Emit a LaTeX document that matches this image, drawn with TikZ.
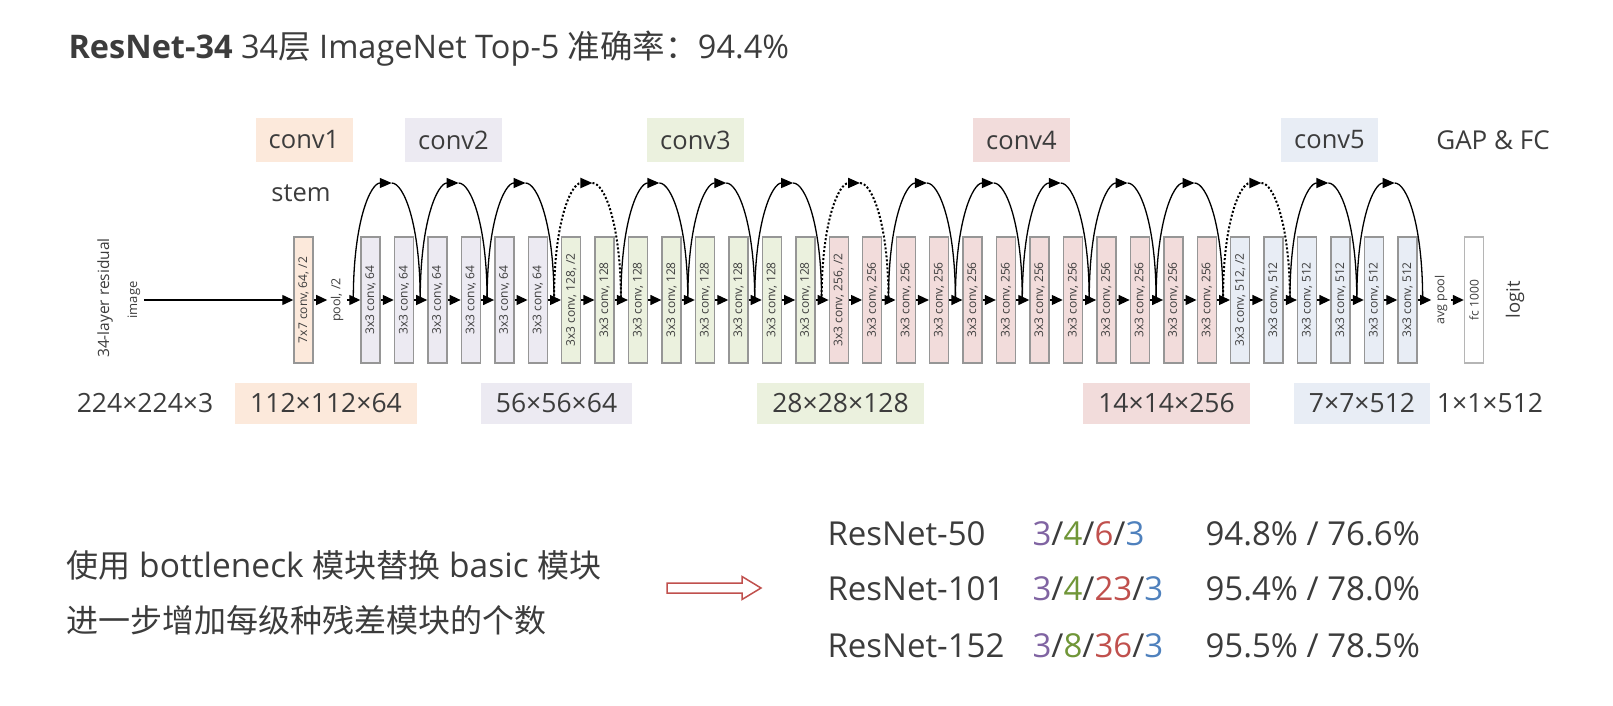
\documentclass[tikz,border=0pt]{standalone}
\usepackage{fontspec}
\setmainfont{Open Sans}
\newfontfamily\cjk{Noto Sans CJK SC}
\usetikzlibrary{arrows.meta,positioning,calc}
\definecolor{ink}{RGB}{60,60,60}
\definecolor{stemc}{RGB}{252,233,219}
\definecolor{stageb}{RGB}{236,234,242}
\definecolor{stagec}{RGB}{235,241,222}
\definecolor{staged}{RGB}{242,220,219}
\definecolor{stagee}{RGB}{232,237,245}
\definecolor{boxgray}{RGB}{150,150,150}
\definecolor{purp}{RGB}{128,100,162}
\definecolor{leafgreen}{RGB}{112,150,56}
\definecolor{brick}{RGB}{192,80,77}
\definecolor{steel}{RGB}{79,129,189}
\newcommand{\fs}[1]{\fontsize{#1}{#1}\selectfont}
\newcommand{\depths}[4]{\textcolor{purp}{#1}/\textcolor{leafgreen}{#2}/\textcolor{brick}{#3}/\textcolor{steel}{#4}}

\begin{document}
\begin{tikzpicture}[x=1pt,y=1pt,every node/.style={text=ink},
  blk/.style={draw=boxgray,line width=1.4pt,minimum width=19pt,minimum height=126pt,inner sep=0pt},
  blktxt/.style={rotate=90,font=\fs{12},inner sep=0pt},
  tag/.style={minimum width=97pt,minimum height=43pt,font=\fs{25.5}},
  dim/.style={minimum height=41pt,inner xsep=15pt,font=\fs{26.5}},
  conn/.style={-{Triangle[length=11pt,width=10pt]},line width=1.3pt},
  shortcut/.style={line width=1.3pt},
  proj/.style={dash pattern=on 2pt off 2pt,line width=2pt},
  tipped/.style={-{Triangle[length=12pt,width=10pt]}}]
\useasboundingbox (0,0) rectangle (1613,-706);

\node[anchor=west,font=\fs{32.5}] (title) at (65,-49) {\textbf{ResNet-34} 34{\cjk 层} ImageNet Top-5 {\cjk 准确率：}94.4\%};

% stage tags
\node[tag,fill=stemc] (tag1) at (304,-140) {conv1};
\node[tag,fill=stageb] (tag2) at (453.5,-140) {conv2};
\node[tag,fill=stagec] (tag3) at (695.5,-140) {conv3};
\node[tag,fill=staged] (tag4) at (1021.5,-140) {conv4};
\node[tag,fill=stagee] (tag5) at (1329.5,-140) {conv5};
\node[font=\fs{26}] (gap) at (1493,-140) {GAP \& FC};
\node[font=\fs{25.5}] (stem) at (301,-193) {stem};

% layer chain
\node[rotate=90,font=\fs{15.5}] (arch) at (105,-298) {34-layer residual};
\node[rotate=90,font=\fs{13}] (img) at (134,-300) {image};
\node[blk,fill=stemc] (c1) at (303.5,-300) {};
\node[blktxt] (c1t) at (c1) {7x7 conv, 64, /2};
\node[rotate=90,font=\fs{12.5}] (pool) at (337,-300) {pool, /2};
\foreach \first/\last/\col/\ch in {0/5/stageb/64,6/13/stagec/128,14/25/staged/256,26/31/stagee/512}
  \foreach \i in {\first,...,\last}{
    \node[blk,fill=\col] (b\i) at ({370.5+33.45*\i},-300) {};
    \node[blktxt] (bt\i) at (b\i) {3x3 conv, \ch\ifnum\i=\first\relax\ifnum\i>0\relax, /2\fi\fi};
  }
\node[rotate=90,font=\fs{12.5}] (avg) at (1441,-300) {avg pool};
\node[blk,fill=white,draw=boxgray!70] (fc) at (1474,-300) {};
\node[blktxt] (fct) at (fc) {fc 1000};
\node[rotate=90,font=\fs{18.5}] (logit) at (1515,-300) {logit};

\draw[conn] (img) -- (c1);
\draw[conn] (c1) -- (pool);
\draw[conn] (pool) -- (b0);
\foreach \i [evaluate=\i as \j using int(\i+1)] in {0,...,30}
  \draw[conn] (b\i) -- (b\j);
\draw[conn] (b31) -- (avg);
\draw[conn] (avg) -- (fc);

% shortcuts
\foreach \k [evaluate=\k as \n using int(2*\k)] in {0,...,15}
  \coordinate (s\k) at ([xshift=-7pt]b\n.west);
\coordinate (s16) at ([xshift=5pt]b31.east);
\foreach \k/\ln [evaluate=\k as \m using int(\k+1)] in {0/shortcut,1/shortcut,2/shortcut,3/proj,
    4/shortcut,5/shortcut,6/shortcut,7/proj,8/shortcut,9/shortcut,10/shortcut,11/shortcut,
    12/shortcut,13/proj,14/shortcut,15/shortcut}{
  \coordinate (p\k) at ($(s\k)!0.5!(s\m)+(5,117)$);
  \draw[\ln,tipped] (s\k) .. controls +(0,80) and +(-21,0) .. (p\k);
  \draw[\ln] (p\k) .. controls +(12,0) and +(0,76) .. (s\m);
}

% feature map sizes
\node[font=\fs{26.5}] (d0) at (145,-403) {224×224×3};
\node[dim,fill=stemc] (d1) at (326,-403) {112×112×64};
\node[dim,fill=stageb] (d2) at (556.5,-403) {56×56×64};
\node[dim,fill=stagec] (d3) at (840.5,-403) {28×28×128};
\node[dim,fill=staged] (d4) at (1166.5,-403) {14×14×256};
\node[dim,fill=stagee] (d5) at (1362,-403) {7×7×512};
\node[font=\fs{26.5}] (d6) at (1490,-403) {1×1×512};

% deeper variants
\node[anchor=west,font=\fs{33.5}] (note1) at (63,-565) {{\cjk\fs{32}使用} bottleneck {\cjk\fs{32}模块替换} basic {\cjk\fs{32}模块}};
\node[anchor=west,font=\fs{32}\cjk] (note2) at (63,-620) {进一步增加每级种残差模块的个数};
\draw[brick,line width=1.5pt,fill=white,shift={(667,-588)}]
  (0,-5) -- (75,-5) -- (75,-11.5) -- (94,0) -- (75,11.5) -- (75,5) -- (0,5) -- cycle;
\node[anchor=west,font=\fs{33}] (r50) at (824,-534) {ResNet-50};
\node[anchor=west,font=\fs{33}] (r101) at (824,-589) {ResNet-101};
\node[anchor=west,font=\fs{33}] (r152) at (824,-646) {ResNet-152};
\node[anchor=west,font=\fs{33}] (n50) at (1029,-534) {\depths{3}{4}{6}{3}};
\node[anchor=west,font=\fs{33}] (n101) at (1029,-589) {\depths{3}{4}{23}{3}};
\node[anchor=west,font=\fs{33}] (n152) at (1029,-646) {\depths{3}{8}{36}{3}};
\node[anchor=west,font=\fs{33}] (a50) at (1202,-534) {94.8\% / 76.6\%};
\node[anchor=west,font=\fs{33}] (a101) at (1202,-589) {95.4\% / 78.0\%};
\node[anchor=west,font=\fs{33}] (a152) at (1202,-646) {95.5\% / 78.5\%};
\end{tikzpicture}
\end{document}
